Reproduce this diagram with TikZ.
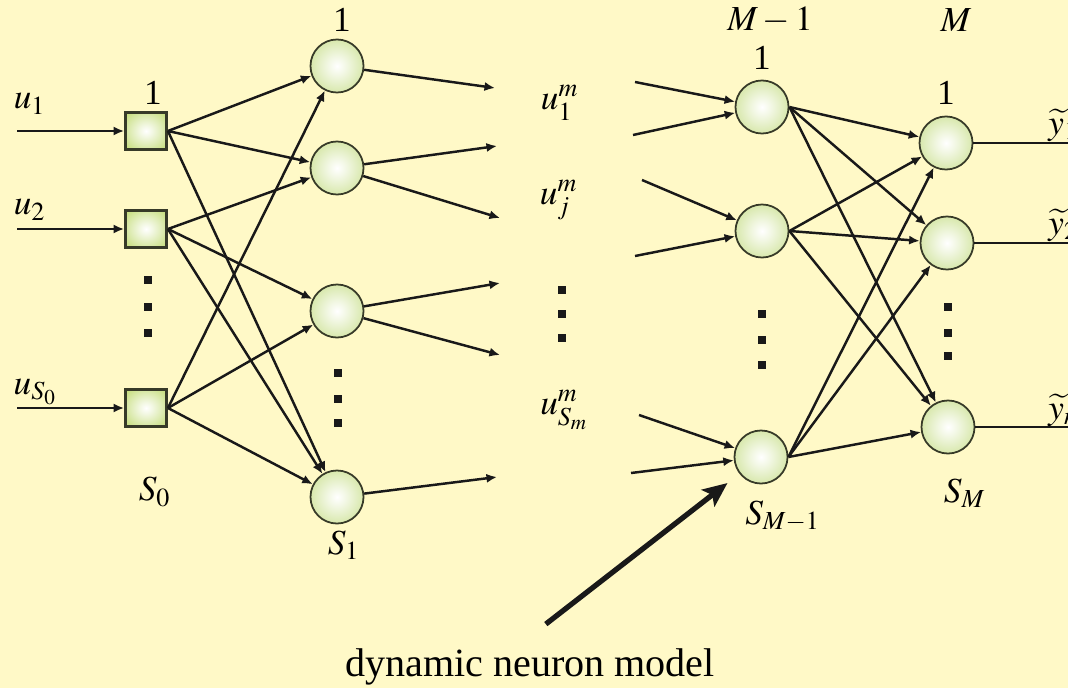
\documentclass[tikz,border=0pt]{standalone}
\usepackage{mathptmx}
\usepackage[no-math]{fontspec}
\setmainfont{Liberation Serif}
\usetikzlibrary{positioning,arrows.meta}

\definecolor{bgyellow}{RGB}{255,249,199}
\definecolor{ballgreen}{RGB}{176,208,88}
\definecolor{boxgreen}{RGB}{168,204,58}
\definecolor{nborder}{RGB}{55,58,40}

\pgfdeclareradialshading{ball}{\pgfpoint{0bp}{0bp}}{color(0bp)=(white); color(8bp)=(white!85!ballgreen); color(50bp)=(ballgreen); color(75bp)=(ballgreen)}
\pgfdeclareradialshading{boxball}{\pgfpoint{0bp}{0bp}}{color(0bp)=(white); color(8bp)=(white!85!boxgreen); color(50bp)=(boxgreen); color(75bp)=(boxgreen)}

\tikzset{
  neuron/.style={circle,draw=nborder,line width=0.5pt,minimum size=0.53cm,inner sep=0pt,shading=ball},
  inbox/.style={rectangle,draw=nborder,line width=0.8pt,minimum width=0.41cm,minimum height=0.37cm,inner sep=0pt,shading=boxball},
  conn/.style={-{Latex[length=3pt,width=2.6pt]},line width=0.7pt,black!90},
  bigarrow/.style={-{Stealth[length=7pt,width=6pt,inset=1.5pt]},line width=1.5pt,black!90},
  dotmark/.style={rectangle,fill=black!90,minimum size=0.075cm,inner sep=0pt}
}

\begin{document}
\begin{tikzpicture}[x=0.01cm,y=-0.01cm,font=\fontsize{10}{12}\selectfont]
\useasboundingbox[fill=bgyellow] (0,0) rectangle (1068,688);

% input layer
\node (s1) [inbox] at (146,131) {};
\node (s2) [inbox] at (146,229) {};
\node (s3) [inbox] at (146,408) {};

% first layer
\node (h1) [neuron] at (337,66) {};
\node (h2) [neuron] at (337,168) {};
\node (h3) [neuron] at (337,311) {};
\node (h4) [neuron] at (337,497) {};

% layer M-1
\node (m1) [neuron] at (762,107) {};
\node (m2) [neuron] at (762,231) {};
\node (m3) [neuron] at (761,457) {};

% output layer
\node (o1) [neuron] at (946,143) {};
\node (o2) [neuron] at (947,243) {};
\node (o3) [neuron] at (948,427) {};

% free ends
\coordinate (in1) at (17,131);
\coordinate (in2) at (17,229);
\coordinate (in3) at (17,408);
\coordinate (a1) at (495,88);
\coordinate (a2) at (497,146);
\coordinate (a3) at (500,218);
\coordinate (a4) at (500,283);
\coordinate (a5) at (500,355);
\coordinate (a6) at (497,477);
\coordinate (b1) at (635,82);
\coordinate (b2) at (633,135);
\coordinate (b3) at (642,180);
\coordinate (b4) at (635,256);
\coordinate (b5) at (639,415);
\coordinate (b6) at (631,473);
\coordinate (y1) at (1068,143);
\coordinate (y2) at (1068,243);
\coordinate (y3) at (1068,427);

\draw[conn] (in1) -- (s1);
\draw[conn] (in2) -- (s2);
\draw[conn] (in3) -- (s3);

\draw[conn] (s1.east) -- (h1);
\draw[conn] (s1.east) -- (h2);
\draw[conn] (s1.east) -- (h4);
\draw[conn] (s2.east) -- (h2);
\draw[conn] (s2.east) -- (h3);
\draw[conn] (s2.east) -- (h4);
\draw[conn] (s3.east) -- (h1);
\draw[conn] (s3.east) -- (h3);
\draw[conn] (s3.east) -- (h4);

\draw[conn] (h1) -- (a1);
\draw[conn] (h2) -- (a2);
\draw[conn] (h2) -- (a3);
\draw[conn] (h3) -- (a4);
\draw[conn] (h3) -- (a5);
\draw[conn] (h4) -- (a6);

\draw[conn] (b1) -- (m1);
\draw[conn] (b2) -- (m1);
\draw[conn] (b3) -- (m2);
\draw[conn] (b4) -- (m2);
\draw[conn] (b5) -- (m3);
\draw[conn] (b6) -- (m3);

\draw[conn] (m1.east) -- (o1);
\draw[conn] (m1.east) -- (o2);
\draw[conn] (m1.east) -- (o3);
\draw[conn] (m2.east) -- (o1);
\draw[conn] (m2.east) -- (o2);
\draw[conn] (m2.east) -- (o3);
\draw[conn] (m3.east) -- (o1);
\draw[conn] (m3.east) -- (o2);
\draw[conn] (m3.east) -- (o3);

\draw[line width=0.7pt,black!90] (o1.east) -- (y1);
\draw[line width=0.7pt,black!90] (o2.east) -- (y2);
\draw[line width=0.7pt,black!90] (o3.east) -- (y3);

% dots
\node (d1) [dotmark] at (148,280) {};
\node (d2) [dotmark] at (148,307) {};
\node (d3) [dotmark] at (148,333) {};
\node (d4) [dotmark] at (338,373) {};
\node (d5) [dotmark] at (338,399) {};
\node (d6) [dotmark] at (338,423) {};
\node (d7) [dotmark] at (562,290) {};
\node (d8) [dotmark] at (562,314) {};
\node (d9) [dotmark] at (562,338) {};
\node (d10) [dotmark] at (762,314) {};
\node (d11) [dotmark] at (762,340) {};
\node (d12) [dotmark] at (762,365) {};
\node (d13) [dotmark] at (948,307) {};
\node (d14) [dotmark] at (948,333) {};
\node (d15) [dotmark] at (948,356) {};

% labels
\node (lu1) at (30,104) {$u_1$};
\node (lu2) at (30,210) {$u_2$};
\node (lu3) at (36,392) {$u_{S_0}$};
\node (ls1) at (153,93) {1};
\node (lS0) at (155,492) {$S_0$};
\node (lh1) at (342,20) {1};
\node (lS1) at (344,545) {$S_1$};
\node (lm1) at (560,103) {$u^{m}_{1}$};
\node (lmj) at (559,200) {$u^{m}_{j}$};
\node (lms) at (565,410) {$u^{m}_{S_m}$};
\node (lM1) at (770,20) {$M-1$};
\node (lmm) at (762,58) {1};
\node (lSM1) at (783,516) {$S_{M-1}$};
\node (lM) at (956,20) {$M$};
\node (lo1) at (946,93) {1};
\node (lSM) at (965,493) {$S_M$};
\node (ly1) [anchor=west] at (1036,125) {$\widetilde{y}_1$};
\node (ly2) [anchor=west] at (1036,225) {$\widetilde{y}_2$};
\node (ly3) [anchor=west] at (1036,410) {$\widetilde{y}_n$};

\node (model) at (530,667) {\fontsize{11.4}{13}\selectfont dynamic neuron model};
\draw[bigarrow,shorten <=0.2cm,shorten >=0.15cm] (model.north) -- (m3);

\end{tikzpicture}
\end{document}
